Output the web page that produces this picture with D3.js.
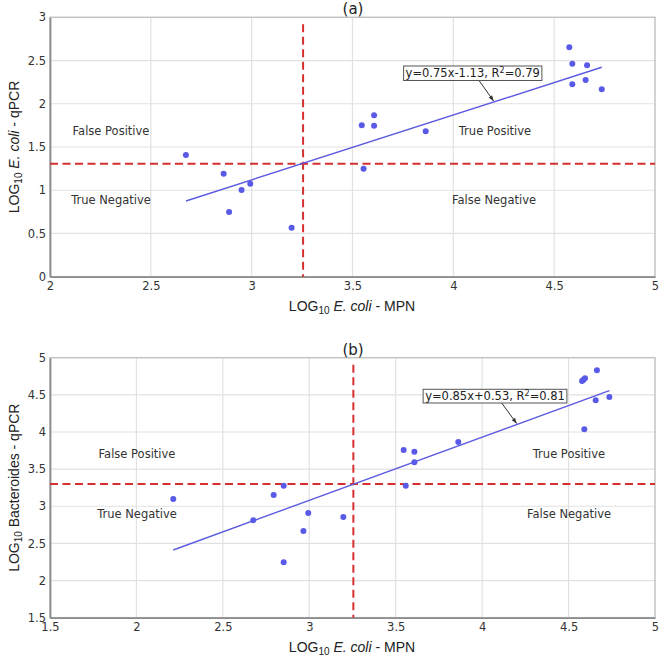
<!DOCTYPE html>
<html><head><meta charset="utf-8">
<script src="https://cdn.jsdelivr.net/npm/d3@7/dist/d3.min.js"></script>
<style>body{margin:0;background:#fff}svg{display:block}</style>
</head><body>
<script>
// Panel (a): LOG10 E. coli MPN vs LOG10 E. coli qPCR
const aX = [2.674,2.861,2.950,2.993,2.888,3.198,3.546,3.607,3.607,3.863,3.555,4.575,4.590,4.590,4.663,4.656,4.736];
const aY = [1.408,1.191,1.003,1.076,0.748,0.567,1.751,1.867,1.746,1.682,1.249,2.653,2.464,2.225,2.445,2.275,2.167];
// Panel (b): LOG10 E. coli MPN vs LOG10 Bacteroides qPCR
const bX = [2.213,2.676,2.794,2.852,2.852,2.966,2.994,3.197,3.546,3.608,3.608,3.558,3.862,4.578,4.586,4.595,4.664,4.657,4.736,4.591];
const bY = [3.098,2.811,3.152,3.277,2.246,2.667,2.910,2.856,3.757,3.735,3.592,3.277,3.865,4.686,4.704,4.722,4.830,4.427,4.471,4.036];
const aXTicks = [2,2.5,3,3.5,4,4.5,5];
const aYTicks = [0,0.5,1,1.5,2,2.5,3];
const bXTicks = [1.5,2,2.5,3,3.5,4,4.5,5];
const bYTicks = [1.5,2,2.5,3,3.5,4,4.5,5];
const aFit = {slope:0.75, intercept:-1.13, label:"y=0.75x-1.13, R", r2:"=0.79"};
const bFit = {slope:0.85, intercept:0.53, label:"y=0.85x+0.53, R", r2:"=0.81"};
const aThresh = {x:3.255, y:1.305};
const bThresh = {x:3.255, y:3.30};
const quadLabels = ["False Positive","True Negative","True Positive","False Negative"];

const W = 661, H = 658;
const svg = d3.select("body").append("svg").attr("width",W).attr("height",H);

function panel(cfg){
  const g = svg.append("g");
  const x = d3.scaleLinear().domain(cfg.xDomain).range([50,655]);
  const y = d3.scaleLinear().domain(cfg.yDomain).range([cfg.bottom,cfg.top]);
  // grid
  g.append("g").selectAll("line").data(cfg.xTicks.slice(1,-1)).join("line")
    .attr("x1",d=>x(d)).attr("x2",d=>x(d)).attr("y1",cfg.top).attr("y2",cfg.bottom)
    .attr("stroke","#e2e2e2").attr("stroke-width",1.2);
  g.append("g").selectAll("line").data(cfg.yTicks.slice(1,-1)).join("line")
    .attr("y1",d=>y(d)).attr("y2",d=>y(d)).attr("x1",50).attr("x2",655)
    .attr("stroke","#e2e2e2").attr("stroke-width",1.2);
  // frame
  g.append("rect").attr("x",50).attr("y",cfg.top).attr("width",605).attr("height",cfg.bottom-cfg.top)
    .attr("fill","none").attr("stroke","#c4c4c4").attr("stroke-width",1.5);
  // axes
  const xa = g.append("g").attr("transform",`translate(0,${cfg.bottom})`)
    .call(d3.axisBottom(x).tickValues(cfg.xTicks).tickFormat(d3.format("")).tickSize(0).tickPadding(5));
  const ya = g.append("g").attr("transform",`translate(50,0)`)
    .call(d3.axisLeft(y).tickValues(cfg.yTicks).tickFormat(d3.format("")).tickSize(0).tickPadding(4));
  [xa,ya].forEach(a=>{
    a.select(".domain").attr("stroke","#8c8c8c").attr("stroke-width",1.8);
    a.selectAll("text").attr("font-family","DejaVu Sans, Verdana, sans-serif").attr("font-size",11.5).attr("fill","#333");
  });
  // threshold lines
  g.append("line").attr("x1",x(cfg.thresh.x)).attr("x2",x(cfg.thresh.x)).attr("y1",cfg.top+7).attr("y2",cfg.bottom)
    .attr("stroke","#d62f2f").attr("stroke-width",2).attr("stroke-dasharray","8,4.5");
  g.append("line").attr("x1",50).attr("x2",655).attr("y1",y(cfg.thresh.y)).attr("y2",y(cfg.thresh.y))
    .attr("stroke","#d62f2f").attr("stroke-width",2).attr("stroke-dasharray","8,4.5");
  // fit line
  const [mn,mx] = d3.extent(cfg.xs);
  const f = v=>cfg.fit.slope*v+cfg.fit.intercept;
  g.append("line").attr("x1",x(mn)).attr("y1",y(f(mn))).attr("x2",x(mx)).attr("y2",y(f(mx)))
    .attr("stroke","#5c5ce0").attr("stroke-width",1.4);
  // points
  g.append("g").selectAll("circle").data(cfg.xs.map((v,i)=>[v,cfg.ys[i]])).join("circle")
    .attr("cx",d=>x(d[0])).attr("cy",d=>y(d[1])).attr("r",3).attr("fill","#5a5ae8");
  // quadrant labels
  const ql = g.append("g").attr("font-family","DejaVu Sans, Verdana, sans-serif").attr("font-size",11.5).attr("fill","#333").attr("text-anchor","middle");
  cfg.quad.forEach((q,i)=>{
    ql.append("text").attr("x",q[0]).attr("y",q[1]).attr("dy","0.35em").text(quadLabels[i]);
  });
  // annotation
  const ax = 4.2, ay = f(ax);
  const bx = cfg.box;
  g.append("line").attr("x1",bx.ax).attr("y1",bx.y+bx.h).attr("x2",x(ax)).attr("y2",y(ay)-1)
    .attr("stroke","#333").attr("stroke-width",1);
  g.append("path").attr("d",()=>{
    const x2=x(ax), y2=y(ay)-1, ang=Math.atan2(y2-(bx.y+bx.h), x2-bx.ax);
    const L=6, w=0.35;
    return `M${x2},${y2}L${x2-L*Math.cos(ang-w)},${y2-L*Math.sin(ang-w)}L${x2-L*Math.cos(ang+w)},${y2-L*Math.sin(ang+w)}Z`;
  }).attr("fill","#333");
  const rect = g.append("rect").attr("x",bx.x).attr("y",bx.y).attr("width",bx.w).attr("height",bx.h)
    .attr("fill","#fff").attr("stroke","#555").attr("stroke-width",1);
  const t = g.append("text").attr("x",bx.x+bx.w/2).attr("y",bx.y+bx.h/2+4.2).attr("text-anchor","middle")
    .attr("font-family","DejaVu Sans, Verdana, sans-serif").attr("font-size",11.5).attr("fill","#222");
  t.append("tspan").text(cfg.fit.label);
  t.append("tspan").attr("dy",-4).attr("font-size",8).text("2");
  t.append("tspan").attr("dy",4).text(cfg.fit.r2);
  const tw = t.node().getComputedTextLength();
  const nw = tw + 4;
  rect.attr("x",bx.x+bx.w/2-nw/2).attr("width",nw);
  // title
  g.append("text").attr("x",353).attr("y",cfg.top-3).attr("text-anchor","middle")
    .attr("font-family","DejaVu Sans, Verdana, sans-serif").attr("font-size",15).attr("fill","#222").text(cfg.title);
  // x label
  const xl = g.append("text").attr("x",352).attr("y",cfg.bottom+34.5).attr("text-anchor","middle")
    .attr("font-family","Liberation Sans, Arial, sans-serif").attr("font-size",14).attr("fill","#222");
  xl.append("tspan").text("LOG");
  xl.append("tspan").attr("font-size",10).attr("dy",3).text("10");
  xl.append("tspan").attr("dy",-3).attr("font-style","italic").text(" E. coli");
  xl.append("tspan").text("  - MPN");
  // y label
  const yl = g.append("text").attr("transform",`translate(19,${(cfg.top+cfg.bottom)/2}) rotate(-90)`).attr("text-anchor","middle")
    .attr("font-family","Liberation Sans, Arial, sans-serif").attr("font-size",14).attr("fill","#222");
  yl.append("tspan").text("LOG");
  yl.append("tspan").attr("font-size",10).attr("dy",3).text("10");
  if(cfg.italic){
    yl.append("tspan").attr("dy",-3).attr("font-style","italic").text(" "+cfg.italic);
    yl.append("tspan").text(cfg.yRest);
  } else {
    yl.append("tspan").attr("dy",-3).text(cfg.yRest);
  }
}

panel({xDomain:[2,5], yDomain:[0,3], top:17.3, bottom:276.7, xTicks:aXTicks, yTicks:aYTicks,
  xs:aX, ys:aY, fit:aFit, thresh:aThresh, title:"(a)",
  quad:[[111,131],[111,200],[495,131],[494,200]],
  box:{x:411.5,y:66,w:122.5,h:14.5,ax:479},
  italic:"E. coli", yRest:"  - qPCR"});
panel({xDomain:[1.5,5], yDomain:[1.5,5], top:357.7, bottom:617.7, xTicks:bXTicks, yTicks:bYTicks,
  xs:bX, ys:bY, fit:bFit, thresh:bThresh, title:"(b)",
  quad:[[137,454.3],[137,514.3],[569,454.3],[569,514.3]],
  box:{x:431.5,y:389.3,w:127,h:13.7,ax:501.7},
  italic:null, yRest:" Bacteroides - qPCR"});
</script>
</body></html>
